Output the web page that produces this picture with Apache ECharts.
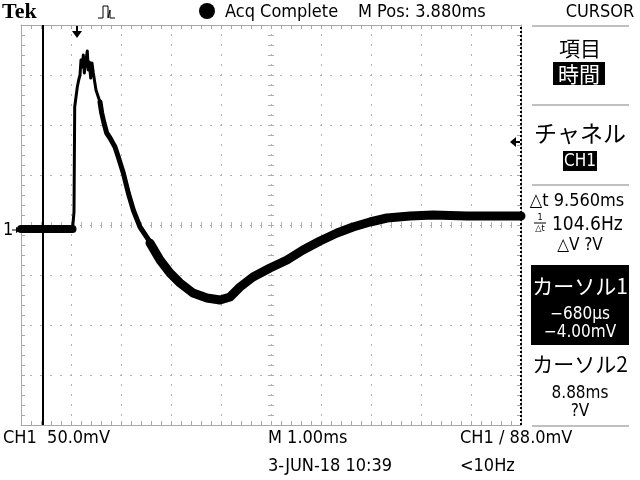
<!DOCTYPE html>
<html>
<head>
<meta charset="utf-8">
<script src="https://cdn.jsdelivr.net/npm/echarts@6/dist/echarts.min.js"></script>
<style>html,body{margin:0;padding:0;background:#fff;}#c{width:640px;height:480px;}</style>
</head>
<body>
<div id="c"></div>
<script>
// ---- data (time in ms, voltage in mV) ----
var timeRange = [-1.12, 8.88];
var voltRange = [-195, 205];
var baseT = [-1.12, -0.60, -0.09];
var baseV = [1, 1, 1];
var peakT = [-0.09, -0.06, -0.046, 0.006, 0.034, 0.06, 0.08, 0.106, 0.126, 0.146, 0.18, 0.206, 0.226, 0.246, 0.274, 0.30, 0.326, 0.36, 0.38, 0.426, 0.46];
var peakV = [1, 18, 123, 143, 150, 155, 170, 163, 175, 157, 170, 179, 160, 168, 152, 167, 157, 158, 140, 133, 128];
var fallT = [0.46, 0.494, 0.54, 0.594, 0.66, 0.76, 0.826, 0.926, 1.026, 1.126, 1.26, 1.394, 1.526];
var fallV = [128, 117, 107, 97, 92, 83, 73, 57, 37, 20, 3, -7, -17];
var recT = [1.46, 1.66, 1.86, 2.06, 2.32, 2.60, 2.86, 3.06, 3.26, 3.52, 3.86, 4.20, 4.52, 4.86, 5.20, 5.52, 5.86, 6.20, 6.66, 7.12, 7.80, 8.46, 8.88];
var recV = [-13, -30, -43, -53, -63, -68, -70, -67, -57, -47, -38, -30, -20, -11, -3, 3, 8, 12, 14, 15, 14, 14, 14];
var cursor1T = -0.68;
var cursor2T = 8.88;
var triggerT = 0;
var triggerLevel = 88;
var groundV = 0;

function pairs(t, v) { return t.map(function (x, i) { return [x, v[i]]; }); }

var G = '#a8a8a8';
var GS = '#b0b0b0';
var F = '"Liberation Sans Narrow","DejaVu Sans Condensed","Arial Narrow",sans-serif';
var FJ = '"Noto Sans CJK JP",sans-serif';

var chart = echarts.init(document.getElementById('c'), null, {renderer: 'canvas'});

function gratAxis(pos, max, split) {
  return {
    type: 'value', min: 0, max: max, interval: 1, position: pos,
    axisLine: {show: true, onZero: false, lineStyle: {color: G, width: 1}},
    axisTick: {show: true, inside: true, length: 4, lineStyle: {color: G}},
    minorTick: {show: true, splitNumber: 5, length: 4, lineStyle: {color: G}},
    axisLabel: {show: false},
    splitLine: {show: split, lineStyle: {color: GS, width: 1, type: [2, 8], dashOffset: 1}}
  };
}
function centerAxis(pos, max, off) {
  return {
    type: 'value', min: 0, max: max, interval: 1, position: pos, offset: off,
    axisLine: {show: false, onZero: false},
    axisTick: {show: true, inside: true, length: 6, lineStyle: {color: GS}},
    axisLabel: {show: false}, splitLine: {show: false}
  };
}

function line(t, v, w, extra) {
  var s = {
    type: 'line', xAxisIndex: 0, yAxisIndex: 0, data: pairs(t, v),
    showSymbol: false, symbol: 'none', silent: true,
    lineStyle: {color: '#000', width: w, join: 'round', cap: 'round'}
  };
  if (extra) for (var k in extra) s[k] = extra[k];
  return s;
}

var option = {
  animation: false,
  backgroundColor: '#fff',
  grid: {left: 21, top: 25, width: 500, height: 400, containLabel: false},
  xAxis: [
    {type: 'value', min: timeRange[0], max: timeRange[1], show: false},
    gratAxis('bottom', 10, true),
    gratAxis('top', 10, false),
    centerAxis('bottom', 50, -197)
  ],
  yAxis: [
    {type: 'value', min: voltRange[0], max: voltRange[1], show: false},
    gratAxis('left', 8, true),
    gratAxis('right', 8, false),
    centerAxis('left', 40, -247)
  ],
  series: [
    line(baseT, baseV, 8, {
      markLine: {
        silent: true, symbol: 'none', label: {show: false},
        data: [
          {xAxis: cursor1T, lineStyle: {color: '#000', width: 2, type: 'solid'}},
          {xAxis: cursor2T, lineStyle: {color: '#000', width: 2, type: [2, 2]}}
        ]
      }
    }),
    line(peakT, peakV, 3),
    line(fallT, fallV, 5),
    line(recT, recV, 9)
  ]
};
chart.setOption(option);

function T(text, x, y, font, opts) {
  opts = opts || {};
  return {
    type: 'text', z: 100,
    style: {
      text: text, x: x, y: y, font: font, fill: opts.fill || '#000',
      textAlign: opts.align || 'left', align: opts.align || 'left',
      textVerticalAlign: 'middle', verticalAlign: 'middle'
    }
  };
}
function R(x, y, w, h, fill) {
  return {type: 'rect', z: 90, shape: {x: x, y: y, width: w, height: h}, style: {fill: fill}};
}
function L(x1, y1, x2, y2, color, w) {
  return {type: 'line', z: 95, shape: {x1: x1, y1: y1, x2: x2, y2: y2}, style: {stroke: color, lineWidth: w}};
}

var gnd = chart.convertToPixel({xAxisIndex: 0, yAxisIndex: 0}, [timeRange[0], groundV]);
var trg = chart.convertToPixel({xAxisIndex: 0, yAxisIndex: 0}, [triggerT, voltRange[1]]);
var lvl = chart.convertToPixel({xAxisIndex: 0, yAxisIndex: 0}, [timeRange[1], triggerLevel]);

var f17 = '18px ' + F;
var graphics = [
  T('Tek', 2, 12, 'bold 22px "Liberation Serif","DejaVu Serif",serif'),
  {type: 'polyline', z: 100, shape: {points: [[98, 18], [103, 18], [103, 6], [108, 6], [108, 18], [110, 10], [110, 18], [115, 18]]}, style: {stroke: '#000', lineWidth: 1, fill: null}},
  {type: 'circle', z: 100, shape: {cx: 207, cy: 11, r: 8}, style: {fill: '#000'}},
  T('Acq Complete', 225, 12, f17),
  T('M Pos: 3.880ms', 358, 12, f17),
  T('CURSOR', 600, 12, f17, {align: 'center'}),
  // right panel separators
  L(532, 26, 629, 26, '#c0c0c0', 2),
  L(532, 105, 629, 105, '#c0c0c0', 2),
  L(532, 185, 629, 185, '#c0c0c0', 2),
  L(532, 426, 629, 426, '#c0c0c0', 2),
  T('項目', 580, 48, '21px ' + FJ, {align: 'center'}),
  R(553, 62, 52, 23, '#000'),
  T('時間', 579, 74, '21px ' + FJ, {align: 'center', fill: '#fff'}),
  T('チャネル', 580, 133, '23px ' + FJ, {align: 'center'}),
  R(563, 151, 34, 20, '#000'),
  T('CH1', 580, 162, '17px ' + F, {align: 'center', fill: '#fff'}),
  T('△t 9.560ms', 577, 201, '18px ' + F, {align: 'center'}),
  T('1', 540, 218, '9px ' + F, {align: 'center'}),
  L(534, 223, 546, 223, '#000', 1),
  T('△t', 540, 229, '9px ' + F, {align: 'center'}),
  T('104.6Hz', 552, 225, '19px ' + F),
  T('△V ?V', 580, 246, '17px ' + F, {align: 'center'}),
  R(531, 265, 98, 80, '#000'),
  T('カーソル1', 580, 286, '21px ' + FJ, {align: 'center', fill: '#fff'}),
  T('−680μs', 580, 315, '17px ' + F, {align: 'center', fill: '#fff'}),
  T('−4.00mV', 580, 333, '17px ' + F, {align: 'center', fill: '#fff'}),
  T('カーソル2', 580, 364, '21px ' + FJ, {align: 'center'}),
  T('8.88ms', 580, 394, '17px ' + F, {align: 'center'}),
  T('?V', 580, 412, '17px ' + F, {align: 'center'}),
  // bottom status
  T('CH1  50.0mV', 3, 438, f17),
  T('M 1.00ms', 268, 438, f17),
  T('CH1 / 88.0mV', 460, 438, f17),
  T('3-JUN-18 10:39', 268, 466, f17),
  T('<10Hz', 460, 466, f17),
  // ground marker
  T('1', 3, gnd[1], f17),
  L(12, gnd[1], 20, gnd[1], '#000', 1),
  {type: 'polygon', z: 100, shape: {points: [[16, gnd[1] - 3], [21, gnd[1]], [16, gnd[1] + 3]]}, style: {fill: '#000'}},
  // trigger position marker
  L(trg[0], trg[1] + 1, trg[0], trg[1] + 6, '#000', 2),
  {type: 'polygon', z: 100, shape: {points: [[trg[0] - 5, trg[1] + 6], [trg[0] + 5, trg[1] + 6], [trg[0], trg[1] + 13]]}, style: {fill: '#000'}},
  // trigger level marker
  {type: 'polygon', z: 100, shape: {points: [[lvl[0] - 11, lvl[1]], [lvl[0] - 5, lvl[1] - 5], [lvl[0] - 5, lvl[1] + 5]]}, style: {fill: '#000'}},
  L(lvl[0] - 6, lvl[1], lvl[0] - 1, lvl[1], '#000', 2)
];
chart.setOption({graphic: graphics});
</script>
</body>
</html>
